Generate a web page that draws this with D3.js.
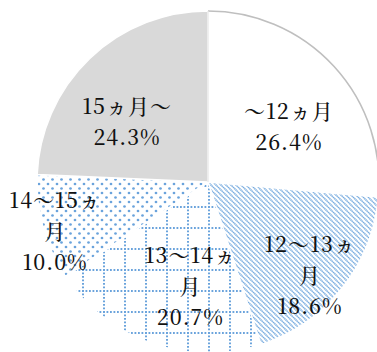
<!DOCTYPE html>
<html>
<head>
<meta charset="utf-8">
<script src="https://cdn.jsdelivr.net/npm/d3@7"></script>
<style>
  html, body { margin: 0; padding: 0; background: #ffffff; overflow: hidden; }
  svg { display: block; }
</style>
</head>
<body>
<svg id="chart" width="377" height="352"></svg>
<script>
// Share of cases by duration (months)
const categories = ["～12ヵ月", "12～13ヵ月", "13～14ヵ月", "14～15ヵ月", "15ヵ月～"];
const shares = [26.4, 18.6, 20.7, 10.0, 24.3];

// Slice fills: plain, stripes, grid, dots, grey
const fills = ["#ffffff", "url(#diag)", "url(#grid)", "url(#dots)", "#d9d9d9"];

// Label placement inside each slice: fraction of the sweep, fraction of the radius
const labelSweep = [0.59, 0.56, 0.37, 0.43, 0.39];
const labelRadius = [0.57, 0.81, 0.62, 0.94, 0.59];
// Character index where a long category name wraps (null = no wrap)
const wrapAt = [null, 6, 6, 6, null];

const W = 377, H = 352;
const cx = 208, cy = 182, R = 171;
const lineGap = 31;
const blue = "#6aa3dc";

const svg = d3.select("#chart");
const defs = svg.append("defs");

// Diagonal stripes
const diag = defs.append("pattern").attr("id", "diag")
  .attr("patternUnits", "userSpaceOnUse").attr("width", 5).attr("height", 5);
diag.append("rect").attr("width", 5).attr("height", 5).attr("fill", "#fff");
diag.append("path").attr("d", "M-1,-1L6,6M-1,4L1,6M4,-1L6,1")
  .attr("stroke", blue).attr("stroke-width", 1.5).attr("fill", "none")
  .attr("stroke-dasharray", "1.2 0.5");

// Large dotted grid
const grid = defs.append("pattern").attr("id", "grid")
  .attr("patternUnits", "userSpaceOnUse").attr("width", 21).attr("height", 21)
  .attr("x", 0).attr("y", 3);
grid.append("rect").attr("width", 21).attr("height", 21).attr("fill", "#fff");
grid.append("line").attr("x1", 0).attr("y1", 1).attr("x2", 21).attr("y2", 1)
  .attr("stroke", blue).attr("stroke-width", 2).attr("stroke-dasharray", "1.8 1.7");
grid.append("line").attr("x1", 1).attr("y1", 0).attr("x2", 1).attr("y2", 21)
  .attr("stroke", blue).attr("stroke-width", 2).attr("stroke-dasharray", "1.8 1.7");

// Staggered dots
const dots = defs.append("pattern").attr("id", "dots")
  .attr("patternUnits", "userSpaceOnUse").attr("width", 9).attr("height", 9);
dots.append("rect").attr("width", 9).attr("height", 9).attr("fill", "#fff");
dots.append("circle").attr("cx", 2).attr("cy", 2).attr("r", 1.35).attr("fill", blue);
dots.append("circle").attr("cx", 6.5).attr("cy", 6.5).attr("r", 1.35).attr("fill", blue);

const pie = d3.pie().sort(null).value(d => d)(shares);
const arc = d3.arc().innerRadius(0).outerRadius(R);
const rim = d3.arc().innerRadius(R).outerRadius(R);

const g = svg.append("g").attr("transform", `translate(${cx},${cy})`);

g.selectAll("path.slice")
  .data(pie)
  .join("path")
  .attr("class", "slice")
  .attr("d", arc)
  .attr("fill", (d, i) => fills[i])
  .attr("stroke", "#ffffff")
  .attr("stroke-width", 1.5)
  .attr("stroke-linejoin", "round");

// Grey rim on the plain slice
g.append("path")
  .attr("d", rim(pie[0]))
  .attr("fill", "none")
  .attr("stroke", "#bfbfbf")
  .attr("stroke-width", 1.6);
// Light edge between the grey and plain slices
g.append("line")
  .attr("x1", 0).attr("y1", 0).attr("x2", 0).attr("y2", -R)
  .attr("stroke", "#e6e6e6").attr("stroke-width", 1.2);

const fmt = d3.format(".1f");

const labels = g.selectAll("text.lbl")
  .data(pie)
  .join("text")
  .attr("class", "lbl")
  .attr("text-anchor", "middle")
  .style("font-family", "'Noto Serif CJK JP', 'Liberation Serif', serif")
  .style("font-size", "21px")
  .style("font-weight", 500)
  .attr("letter-spacing", 1)
  .attr("fill", "#111111");

labels.each(function (d, i) {
  const a = d.startAngle + labelSweep[i] * (d.endAngle - d.startAngle);
  const k = labelRadius[i] * R;
  const x = k * Math.sin(a);
  const y = -k * Math.cos(a);
  const name = categories[i];
  const lines = wrapAt[i] == null ? [name] : [name.slice(0, wrapAt[i]), name.slice(wrapAt[i])];
  lines.push(fmt(d.data) + "%");
  const y0 = y - (lines.length - 1) * lineGap / 2;
  d3.select(this).selectAll("tspan")
    .data(lines)
    .join("tspan")
    .attr("x", x)
    .attr("y", (t, j) => y0 + j * lineGap)
    .attr("dy", "0.35em")
    .text(t => t);
});
</script>
</body>
</html>
